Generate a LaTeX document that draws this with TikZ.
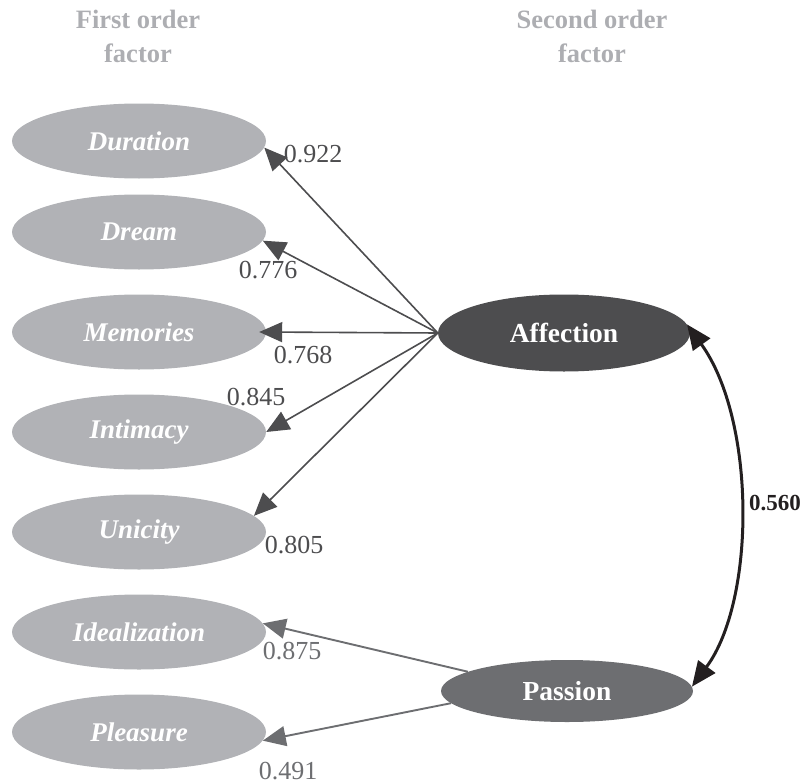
\documentclass[tikz,border=0pt]{standalone}
\usepackage{fontspec}
\setmainfont{Liberation Serif}
\usetikzlibrary{shapes.geometric,arrows.meta}
\definecolor{lightg}{HTML}{B1B2B6}
\definecolor{affc}{HTML}{4D4D4F}
\definecolor{pasc}{HTML}{6D6E71}
\definecolor{titg}{HTML}{ADAEB2}
\definecolor{blk}{HTML}{231F20}
\tikzset{
  fo/.style={ellipse, fill=lightg, minimum width=254pt, minimum height=75pt, inner sep=0pt,
    text=white, font=\fontsize{27}{30}\selectfont\bfseries\itshape},
  so/.style={ellipse, minimum width=252pt, inner sep=0pt,
    text=white, font=\fontsize{27.5}{30}\selectfont\bfseries},
  ttl/.style={align=center, text=titg, font=\fontsize{26.5}{34}\selectfont\bfseries},
  lab/.style={font=\fontsize{26}{30}\selectfont, inner sep=0pt},
  aarr/.style={draw=affc, line width=1.6pt, -{Triangle[length=23pt,width=20pt]}},
  parr/.style={draw=pasc, line width=1.9pt, -{Triangle[length=23pt,width=20pt]}},
}
\begin{document}
\begin{tikzpicture}[x=1pt,y=-1pt]
\useasboundingbox (0,0) rectangle (806,784);
\node[ttl] (t1) at (138,36) {First order\\factor};
\node[ttl] (t2) at (592,36) {Second order\\factor};

\node[fo] (dur) at (139,141) {Duration};
\node[fo] (dre) at (139,232) {Dream};
\node[fo] (mem) at (139,332) {Memories};
\node[fo] (int) at (139,432) {Intimacy};
\node[fo] (uni) at (139,532) {Unicity};
\node[fo] (ide) at (139,632) {Idealization};
\node[fo] (ple) at (139,732) {Pleasure};

\node[so, fill=affc, minimum height=77pt] (aff) at (564,333) {Affection};
\node[so, fill=pasc, minimum height=62pt] (pas) at (567,691) {Passion};

\draw[aarr] (aff.west) -- (dur.-3);
\draw[aarr] (aff.west) -- (dre.-4.5);
\draw[aarr] (aff.west) -- ([xshift=-7pt]mem.east);
\draw[aarr] (aff.west) -- (int.0);
\draw[aarr] (aff.west) -- (uni.8);
\draw[parr] (pas.169) -- (ide.4.5);
\draw[parr] (pas.186) -- (ple.-4.5);

\draw[blk, line width=3pt, {Triangle[length=25pt,width=21pt]}-{Triangle[length=25pt,width=21pt]}]
  (aff.4) .. controls (756,420) and (756,600) .. (pas.2);

\node[lab, text=affc] (l1) at (313,154) {0.922};
\node[lab, text=affc] (l2) at (268,270) {0.776};
\node[lab, text=affc] (l3) at (303,355) {0.768};
\node[lab, text=affc] (l4) at (256,397) {0.845};
\node[lab, text=affc] (l5) at (294,545) {0.805};
\node[lab, text=pasc] (l6) at (292,651) {0.875};
\node[lab, text=pasc] (l7) at (288,771) {0.491};
\node[lab, text=blk, font=\fontsize{23}{28}\selectfont\bfseries] (l8) at (775,503) {0.560};
\end{tikzpicture}
\end{document}
